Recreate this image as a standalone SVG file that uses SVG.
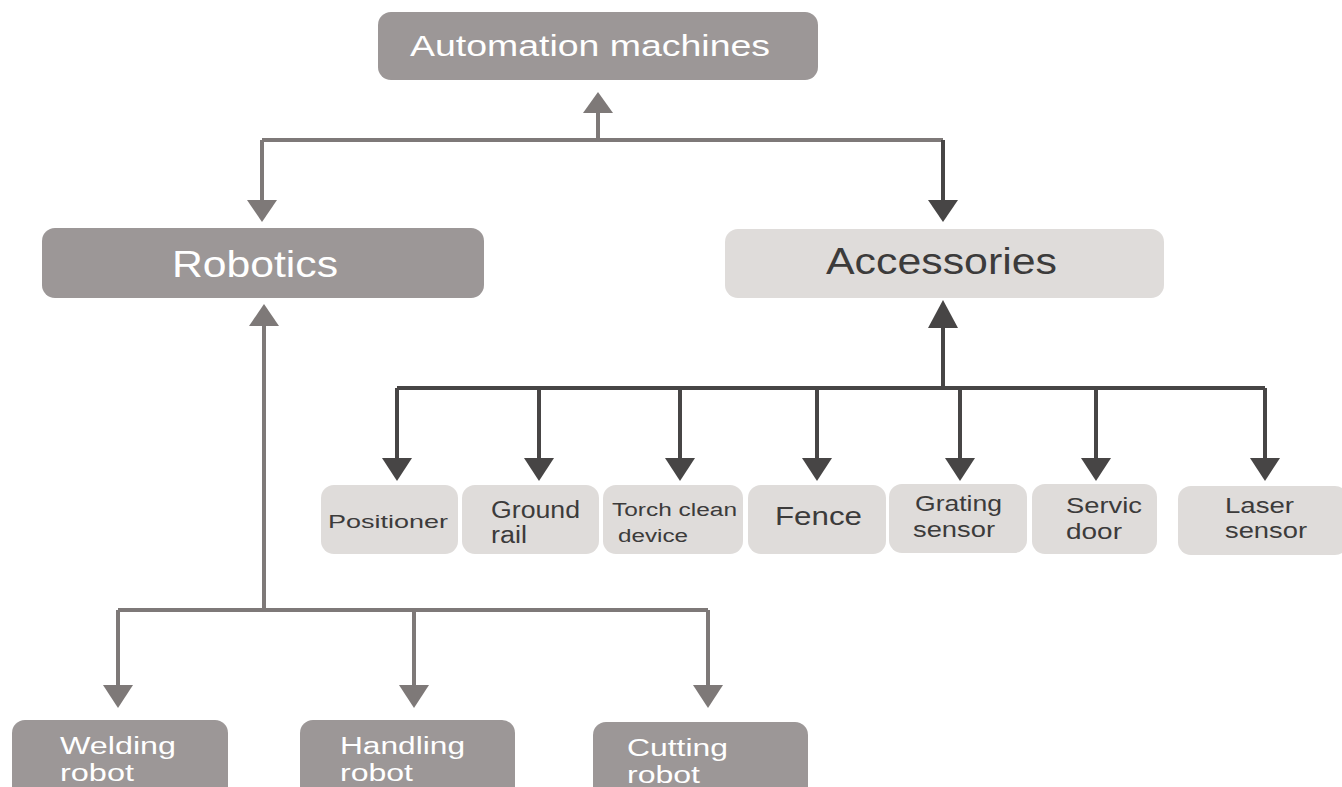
<svg xmlns="http://www.w3.org/2000/svg" width="1342" height="787" viewBox="0 0 1342 787">
<style>
.dk{fill:#9c9797}
.lt{fill:#dfdcda}
.wt{fill:#ffffff;font-family:"Liberation Sans",Arial,sans-serif}
.bt{fill:#3c3b3b;font-family:"Liberation Sans",Arial,sans-serif}
.g{stroke:#7e7978;stroke-width:4;fill:none}
.d{stroke:#474545;stroke-width:4;fill:none}
.ga{fill:#7e7978}
.da{fill:#474545}
</style>
<rect width="1342" height="787" fill="#ffffff"/>
<g id="connectors">
  <path class="g" d="M598 140V110M262 140H943M262 140V205M264 326V610M118 610H708M118 610V690M414 610V690M708 610V690"/>
  <polygon class="ga" points="583,113 613,113 598,92"/>
  <polygon class="ga" points="247,200 277,200 262,222"/>
  <polygon class="ga" points="249,326 279,326 264,304"/>
  <polygon class="ga" points="103,685 133,685 118,708"/>
  <polygon class="ga" points="399,685 429,685 414,708"/>
  <polygon class="ga" points="693,685 723,685 708,708"/>
  <path class="d" d="M943 140V205M943 326V388M397 388H1265M397 388V462M539 388V462M680 388V462M817 388V462M960 388V462M1096 388V462M1265 388V462"/>
  <polygon class="da" points="928,200 958,200 943,222"/>
  <polygon class="da" points="928,328 958,328 943,300"/>
  <polygon class="da" points="382,458 412,458 397,481"/>
  <polygon class="da" points="524,458 554,458 539,481"/>
  <polygon class="da" points="665,458 695,458 680,481"/>
  <polygon class="da" points="802,458 832,458 817,481"/>
  <polygon class="da" points="945,458 975,458 960,481"/>
  <polygon class="da" points="1081,458 1111,458 1096,481"/>
  <polygon class="da" points="1250,458 1280,458 1265,481"/>
</g>
<g id="automation">
  <rect class="dk" x="378" y="12" width="440" height="68" rx="13"/>
  <text class="wt" x="410" y="56" font-size="30" textLength="360" lengthAdjust="spacingAndGlyphs">Automation machines</text>
</g>
<g id="robotics">
  <rect class="dk" x="42" y="228" width="442" height="70" rx="13"/>
  <text class="wt" x="172" y="277" font-size="36" textLength="166" lengthAdjust="spacingAndGlyphs">Robotics</text>
</g>
<g id="accessories">
  <rect class="lt" x="725" y="229" width="439" height="69" rx="13"/>
  <text class="bt" x="826" y="274" font-size="36" textLength="231" lengthAdjust="spacingAndGlyphs">Accessories</text>
</g>
<g id="positioner">
  <rect class="lt" x="321" y="485" width="137" height="69" rx="13"/>
  <text class="bt" x="328" y="528" font-size="19" textLength="120" lengthAdjust="spacingAndGlyphs">Positioner</text>
</g>
<g id="groundrail">
  <rect class="lt" x="462" y="485" width="137" height="69" rx="13"/>
  <text class="bt" x="491" y="518" font-size="23" textLength="89" lengthAdjust="spacingAndGlyphs">Ground</text>
  <text class="bt" x="491" y="543" font-size="23" textLength="36" lengthAdjust="spacingAndGlyphs">rail</text>
</g>
<g id="torch">
  <rect class="lt" x="603" y="485" width="140" height="69" rx="13"/>
  <text class="bt" x="612" y="516" font-size="18" textLength="125" lengthAdjust="spacingAndGlyphs">Torch clean</text>
  <text class="bt" x="618" y="542" font-size="18" textLength="70" lengthAdjust="spacingAndGlyphs">device</text>
</g>
<g id="fence">
  <rect class="lt" x="748" y="485" width="138" height="69" rx="13"/>
  <text class="bt" x="775" y="525" font-size="25" textLength="87" lengthAdjust="spacingAndGlyphs">Fence</text>
</g>
<g id="grating">
  <rect class="lt" x="889" y="484" width="138" height="69" rx="13"/>
  <text class="bt" x="915" y="511" font-size="22" textLength="87" lengthAdjust="spacingAndGlyphs">Grating</text>
  <text class="bt" x="913" y="537" font-size="22" textLength="82" lengthAdjust="spacingAndGlyphs">sensor</text>
</g>
<g id="servic">
  <rect class="lt" x="1032" y="484" width="125" height="70" rx="13"/>
  <text class="bt" x="1066" y="513" font-size="22" textLength="76" lengthAdjust="spacingAndGlyphs">Servic</text>
  <text class="bt" x="1066" y="539" font-size="22" textLength="56" lengthAdjust="spacingAndGlyphs">door</text>
</g>
<g id="laser">
  <rect class="lt" x="1178" y="486" width="170" height="69" rx="13"/>
  <text class="bt" x="1225" y="513" font-size="22" textLength="69" lengthAdjust="spacingAndGlyphs">Laser</text>
  <text class="bt" x="1225" y="538" font-size="22" textLength="82" lengthAdjust="spacingAndGlyphs">sensor</text>
</g>
<g id="welding">
  <rect class="dk" x="12" y="720" width="216" height="80" rx="13"/>
  <text class="wt" x="60" y="754" font-size="23" textLength="116" lengthAdjust="spacingAndGlyphs">Welding</text>
  <text class="wt" x="60" y="781" font-size="23" textLength="74" lengthAdjust="spacingAndGlyphs">robot</text>
</g>
<g id="handling">
  <rect class="dk" x="300" y="720" width="215" height="80" rx="13"/>
  <text class="wt" x="340" y="754" font-size="23" textLength="125" lengthAdjust="spacingAndGlyphs">Handling</text>
  <text class="wt" x="340" y="781" font-size="23" textLength="73" lengthAdjust="spacingAndGlyphs">robot</text>
</g>
<g id="cutting">
  <rect class="dk" x="593" y="722" width="215" height="80" rx="13"/>
  <text class="wt" x="627" y="756" font-size="23" textLength="101" lengthAdjust="spacingAndGlyphs">Cutting</text>
  <text class="wt" x="627" y="783" font-size="23" textLength="73" lengthAdjust="spacingAndGlyphs">robot</text>
</g>
</svg>
